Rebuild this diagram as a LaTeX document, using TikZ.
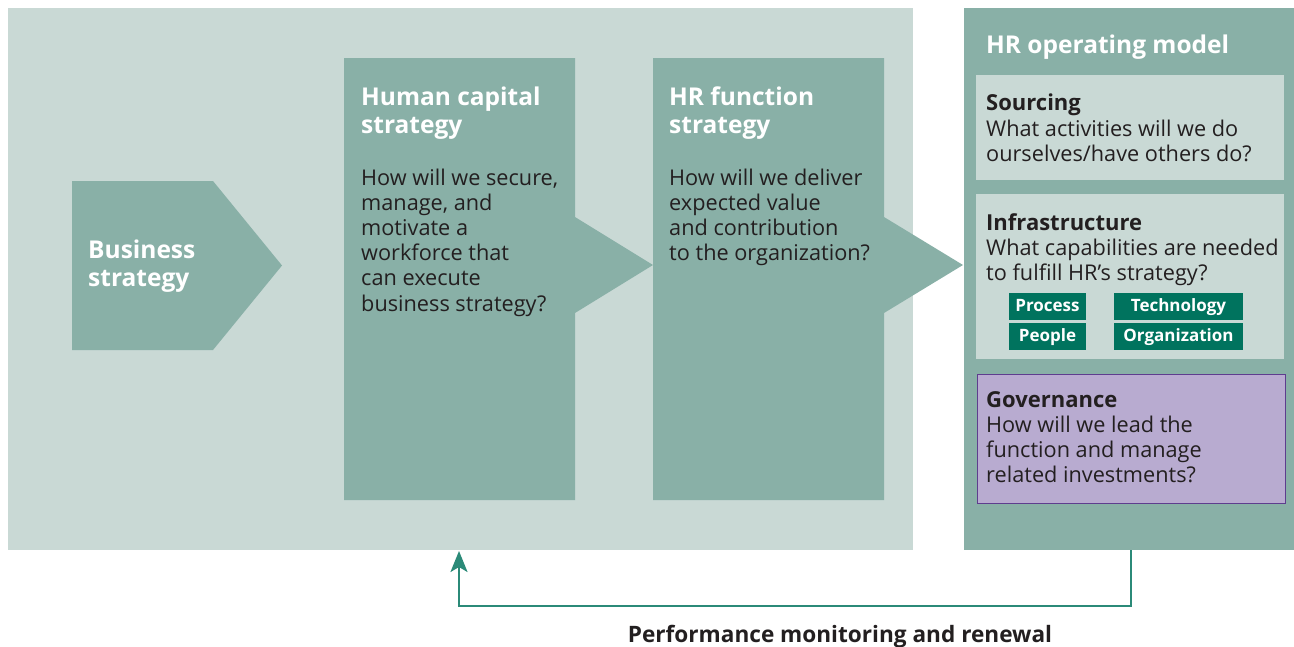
\documentclass[tikz,border=0pt]{standalone}
\usepackage{fontspec}
\setmainfont{Open Sans}
\usetikzlibrary{arrows.meta}
\definecolor{bgl}{HTML}{C9D9D5}
\definecolor{bgm}{HTML}{89B0A7}
\definecolor{tagc}{HTML}{00735E}
\definecolor{govf}{HTML}{B8ABD0}
\definecolor{govd}{HTML}{5E3D8E}
\definecolor{txt}{HTML}{231F20}
\definecolor{arrc}{HTML}{2B8A78}
\newcommand{\tlines}[1]{\begin{tabular}[t]{@{}l@{}}#1\end{tabular}}
\tikzset{
  box/.style={draw=none, inner sep=0, anchor=north west},
  ttl/.style={anchor=base west, inner sep=0, text=white, font=\fontsize{24.5}{28.5}\selectfont\bfseries},
  body/.style={anchor=base west, inner sep=0, text=txt, font=\fontsize{21.7}{25.2}\selectfont},
  sttl/.style={anchor=base west, inner sep=0, text=txt, font=\fontsize{22}{26}\selectfont\bfseries},
  tag/.style={box, fill=tagc, text=white, font=\fontsize{17}{20}\selectfont\bfseries, minimum width=77pt, minimum height=27pt, text height=12.5pt, text depth=3.5pt, anchor=center},
  arr/.style={draw=arrc, line width=2.2pt, -{Stealth[length=21pt, width=17pt, inset=5pt]}}
}
\begin{document}
\begin{tikzpicture}[x=1pt, y=-1pt]
\useasboundingbox (0,0) rectangle (1294,646);
% background panels
\node[box, fill=bgl, minimum width=905pt, minimum height=542pt] (bg) at (8,8) {};
\node[box, fill=bgm, minimum width=330pt, minimum height=542pt] (hr) at (964,8) {};
% business strategy pentagon
\fill[bgm] (72,181) -- (213,181) -- (282,265.5) -- (213,350) -- (72,350) -- cycle;
% human capital strategy
\fill[bgm] (344,58) -- (575,58) -- (575,217) -- (653,265) -- (575,313) -- (575,500) -- (344,500) -- cycle;
% HR function strategy
\fill[bgm] (653,58) -- (884,58) -- (884,217) -- (963,265) -- (884,313) -- (884,500) -- (653,500) -- cycle;
% texts left
\node[ttl] (bs) at (88,258) {\tlines{Business\\strategy}};
\node[ttl] (hct) at (361,105) {\tlines{Human capital\\strategy}};
\node[body] (hcb) at (361,185) {\tlines{How will we secure,\\manage, and\\motivate a\\workforce that\\can execute\\business strategy?}};
\node[ttl] (hft) at (669,105) {\tlines{HR function\\strategy}};
\node[body] (hfb) at (669,185) {\tlines{How will we deliver\\expected value\\and contribution\\to the organization?}};
% right panel
\node[ttl] (hrt) at (986,53) {HR operating model};
\node[box, fill=bgl, minimum width=308pt, minimum height=105pt] (src) at (976,75) {};
\node[sttl] (srct) at (986,110) {Sourcing};
\node[body] (srcb) at (986,136) {\tlines{What activities will we do\\ourselves/have others do?}};
\node[box, fill=bgl, minimum width=308pt, minimum height=165pt] (inf) at (976,194) {};
\node[sttl] (inft) at (986,230) {Infrastructure};
\node[body] (infb) at (986,255) {\tlines{What capabilities are needed\\to fulfill HR’s strategy?}};
\node[tag] (tp) at (1047.5,306.5) {Process};
\node[tag, minimum width=129pt] (tt) at (1178.5,306.5) {Technology};
\node[tag] (tpe) at (1047.5,336.5) {People};
\node[tag, minimum width=129pt] (to) at (1178.5,336.5) {Organization};
\node[box, fill=govf, draw=govd, line width=1.3pt, minimum width=308pt, minimum height=129pt] (gov) at (976.5,373.5) {};
\node[sttl] (govt) at (986,407) {Governance};
\node[body] (govb) at (986,432) {\tlines{How will we lead the\\function and manage\\related investments?}};
% feedback arrow
\coordinate (a1) at (1131,550);
\coordinate (a2) at (459,551);
\draw[arr] (a1) -- (1131,606) -| (a2);
\node[anchor=base, inner sep=0, text=txt, font=\fontsize{22.6}{26}\selectfont\bfseries] (perf) at (840,642) {Performance monitoring and renewal};
\end{tikzpicture}
\end{document}
